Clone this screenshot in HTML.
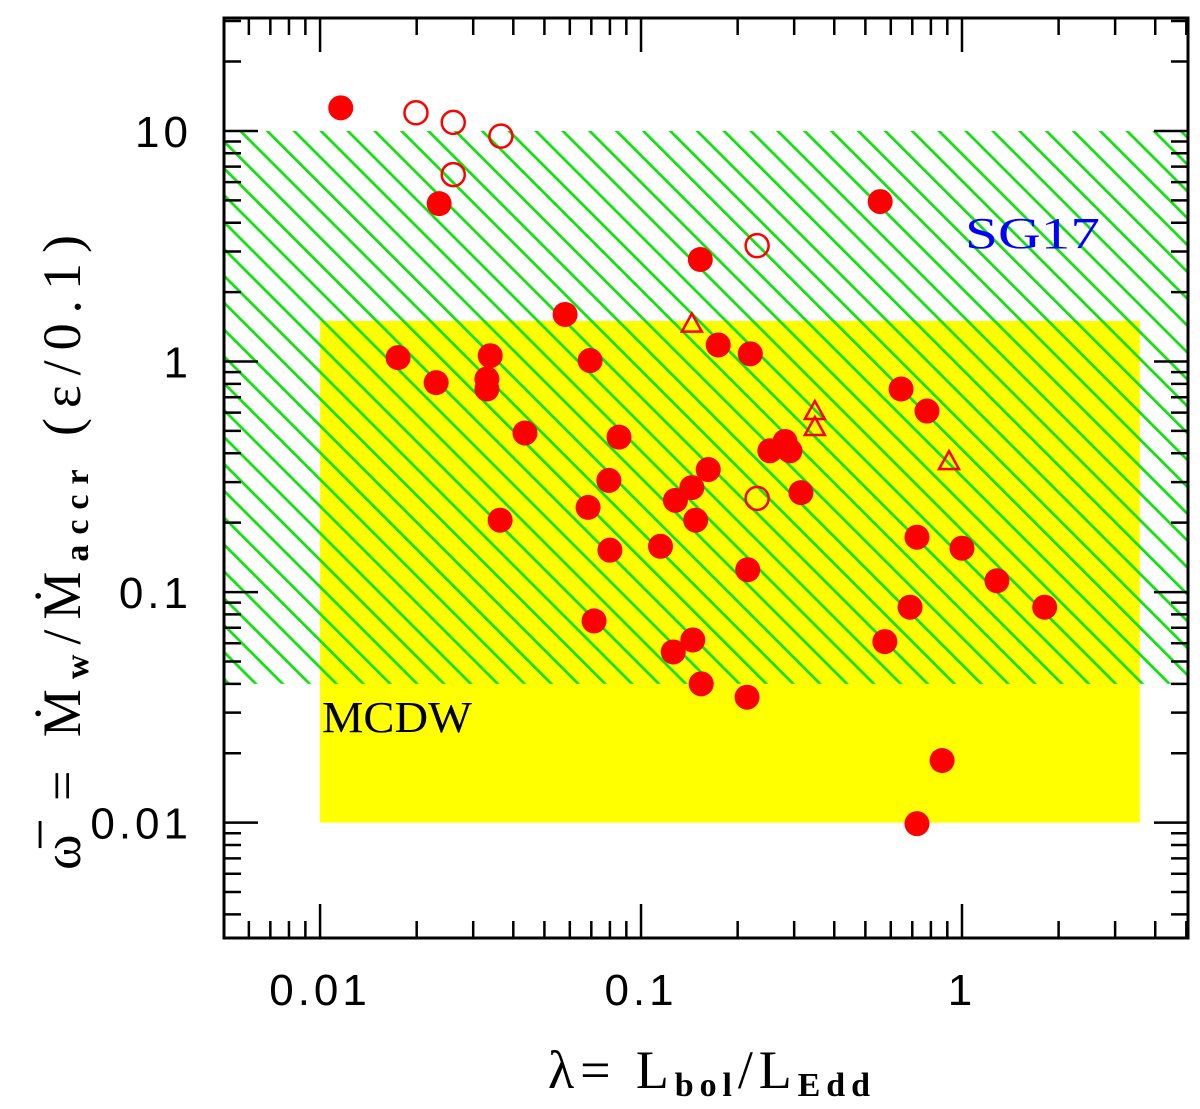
<!DOCTYPE html>
<html><head><meta charset="utf-8"><style>
body{margin:0;background:#fff;}
</style></head><body>
<svg id="chart" width="1200" height="1104" xmlns="http://www.w3.org/2000/svg" font-family="Liberation Sans, sans-serif">
<defs>
<pattern id="hatch" width="19" height="19" patternUnits="userSpaceOnUse" patternTransform="rotate(-45)">
<line x1="0" y1="0" x2="0" y2="19" stroke="#11e011" stroke-width="5.5"/>
</pattern>
<clipPath id="clip"><rect x="224" y="18" width="964" height="920"/></clipPath>
</defs>
<g id="regions" clip-path="url(#clip)"></g>
<g id="marks" clip-path="url(#clip)"></g>
<rect x="224" y="18" width="964" height="920" fill="none" stroke="#000" stroke-width="3"/>
<g id="ticks"></g>
<text x="965" y="248" font-size="44" fill="#0000ff" style="font-family:'Liberation Serif',serif" textLength="135" lengthAdjust="spacingAndGlyphs">SG17</text>
<text x="322" y="732" font-size="44" fill="#000" style="font-family:'Liberation Serif',serif" textLength="150" lengthAdjust="spacingAndGlyphs">MCDW</text>
<text x="548" y="1088" font-size="54" style="font-family:'Liberation Serif',serif" textLength="322" lengthAdjust="spacing">λ=  L<tspan font-size="34" dy="8" font-weight="bold">bol</tspan><tspan dy="-8">/L</tspan><tspan font-size="34" dy="8" font-weight="bold">Edd</tspan></text>
<text transform="translate(80,870) rotate(-90)" font-size="54" style="font-family:'Liberation Serif',serif" textLength="635" lengthAdjust="spacing">ω̅  =  Ṁ<tspan font-size="34" dy="8" font-weight="bold">w</tspan><tspan dy="-8">/Ṁ</tspan><tspan font-size="34" dy="8" font-weight="bold">accr</tspan><tspan dy="-8">   (ε/0.1)</tspan></text>
</svg>
<script>
const filledX=[0.0116,0.0235,0.556,0.153,0.058,0.0175,0.0339,0.023,0.0331,0.0331,0.0694,0.174,0.219,0.646,0.778,0.0435,0.0854,0.252,0.281,0.291,0.162,0.0794,0.144,0.128,0.315,0.0364,0.0684,0.148,0.115,0.080,0.724,1.0,0.215,1.285,0.689,1.81,0.0714,0.145,0.126,0.575,0.154,0.214,0.867,0.724];
const filledY=[12.6,4.84,4.94,2.77,1.60,1.04,1.06,0.81,0.84,0.76,1.01,1.18,1.08,0.76,0.61,0.49,0.47,0.41,0.45,0.41,0.34,0.305,0.284,0.25,0.27,0.205,0.233,0.205,0.158,0.152,0.173,0.155,0.125,0.112,0.086,0.086,0.075,0.062,0.055,0.061,0.040,0.035,0.0186,0.0099];
const openX=[0.0199,0.026,0.0366,0.026,0.23,0.23];
const openY=[12.0,10.9,9.5,6.47,3.18,0.255];
const triX=[0.144,0.348,0.348,0.911];
const triY=[1.46,0.61,0.52,0.37];
const xTickVals=[0.01,0.1,1];
const xTickLabels=["0.01","0.1","1"];
const yTickVals=[0.01,0.1,1,10];
const yTickLabels=["0.01","0.1","1","10"];
const mcdwBox=[0.01,3.58,0.01,1.5];
const sgBox=[0.005,5.1,0.04,10];

const NS="http://www.w3.org/2000/svg";
const L=224,R=1188,T=18,B=938;
const xl0=Math.log10(0.00502),xl1=Math.log10(5.06),yl0=Math.log10(0.00316),yl1=Math.log10(30.9);
function X(v){return L+(Math.log10(v)-xl0)/(xl1-xl0)*(R-L);}
function Y(v){return B-(Math.log10(v)-yl0)/(yl1-yl0)*(B-T);}
function mk(tag,attrs,parent){const e=document.createElementNS(NS,tag);for(const k in attrs)e.setAttribute(k,attrs[k]);document.getElementById(parent).appendChild(e);return e;}

let r=mk('rect',{x:X(mcdwBox[0]),y:Y(mcdwBox[3]),width:X(mcdwBox[1])-X(mcdwBox[0]),height:Y(mcdwBox[2])-Y(mcdwBox[3]),fill:'#ffff00'},'regions');


r=mk('rect',{x:X(sgBox[0]),y:Y(sgBox[3]),width:X(sgBox[1])-X(sgBox[0]),height:Y(sgBox[2])-Y(sgBox[3]),fill:'url(#hatch)'},'regions');



filledX.forEach((v,i)=>{const c=mk('circle',{cx:X(v),cy:Y(filledY[i]),r:12.5,fill:'#ff0000'},'marks');

});
openX.forEach((v,i)=>{const c=mk('circle',{cx:X(v),cy:Y(openY[i]),r:11.5,fill:'none',stroke:'#ff0000','stroke-width':2.5},'marks');

});
triX.forEach((v,i)=>{const cx=X(v),cy=Y(triY[i]);const p=mk('polygon',{points:`${cx},${cy-10} ${cx-10},${cy+8} ${cx+10},${cy+8}`,fill:'none',stroke:'#ff0000','stroke-width':2.5},'marks');

});

function tick(x1,y1,x2,y2){mk('line',{x1,y1,x2,y2,stroke:'#000','stroke-width':2.5},'ticks');}
for(let d=-3;d<=1;d++)for(let m=1;m<=9;m++){const v=m*Math.pow(10,d);const x=X(v);if(x<L+1||x>R-1)continue;const len=m==1?34:17;tick(x,B,x,B-len);tick(x,T,x,T+len);}
for(let d=-3;d<=1;d++)for(let m=1;m<=9;m++){const v=m*Math.pow(10,d);const y=Y(v);if(y<T+1||y>B-1)continue;const len=m==1?34:17;tick(L,y,L+len,y);tick(R,y,R-len,y);}
xTickVals.forEach((v,i)=>{const t=mk('text',{x:X(v),y:1005,'font-size':44,'text-anchor':'middle','letter-spacing':4},'ticks');t.textContent=xTickLabels[i];

});
yTickVals.forEach((v,i)=>{const t=mk('text',{x:192,y:Y(v)+16,'font-size':44,'text-anchor':'end','letter-spacing':4},'ticks');t.textContent=yTickLabels[i];

});
</script>
</body></html>
